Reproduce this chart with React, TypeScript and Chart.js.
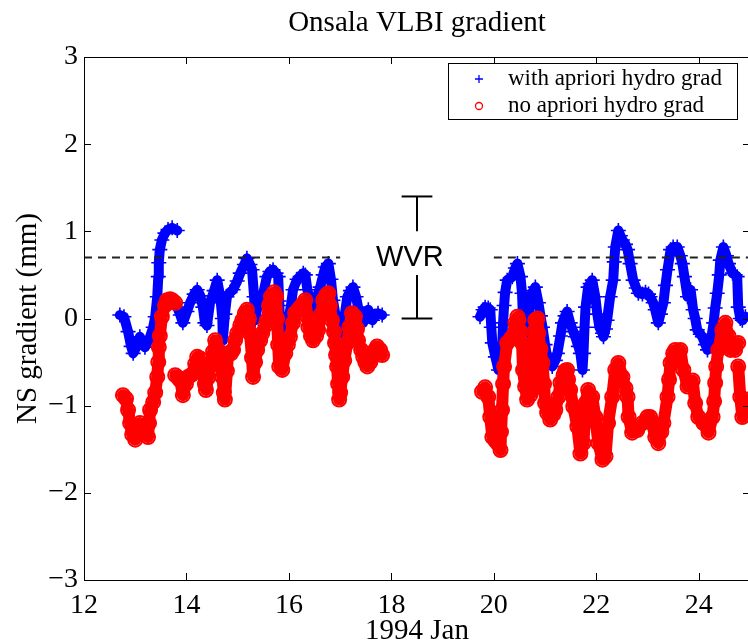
import React, { useEffect, useRef } from 'react';
import { Chart, registerables } from 'chart.js';

Chart.register(...registerables);

const chartTitle = 'Onsala VLBI gradient';
const xAxisTitle = '1994 Jan';
const yAxisTitle = 'NS gradient (mm)';
const legendLabels = ['with apriori hydro grad', 'no apriori hydro grad'];
const xRange = [12, 25];
const yRange = [-3, 3];
const xTickStep = 2;
const yTickStep = 1;

const wvrLevel = 0.7;
const wvrDashSegments = [[12, 17], [20, 25]];
const wvrBarDay = 18.5;
const wvrBarCapHalf = 0.3;
const wvrBarRanges = [[0, 0.5], [1.0, 1.4]];
const wvrLabel = 'WVR';
const wvrLabelDay = 17.7;

// [day of Jan 1994, NS gradient mm]
const withApriori: [number, number][] = [
  [12.70, 0.04], [12.78, 0.02], [12.86, -0.15], [12.92, -0.32], [12.96, -0.40], [13.02, -0.33], [13.09, -0.21], [13.15, -0.28],
  [13.19, -0.33], [13.25, -0.26], [13.29, -0.21], [13.35, -0.10], [13.39, 0.02], [13.43, 0.25], [13.45, 0.48], [13.46, 0.64],
  [13.48, 0.79], [13.52, 0.90], [13.58, 0.98], [13.64, 1.02], [13.72, 1.04], [13.82, 1.01],
  [13.82, 0.13], [13.88, 0.04], [13.93, -0.05], [14.01, 0.08], [14.07, 0.18], [14.15, 0.28], [14.21, 0.33], [14.27, 0.26],
  [14.32, 0.13], [14.36, -0.05], [14.40, -0.08], [14.46, 0.18], [14.54, 0.32], [14.60, 0.44], [14.66, 0.25], [14.70, 0.00],
  [14.71, -0.25], [14.75, 0.05], [14.79, 0.25], [14.85, 0.30], [14.91, 0.33], [14.99, 0.43], [15.05, 0.52], [15.13, 0.62],
  [15.18, 0.69], [15.24, 0.62], [15.28, 0.56], [15.32, 0.25], [15.34, -0.02], [15.40, 0.18], [15.46, 0.25], [15.50, 0.29],
  [15.57, 0.48], [15.63, 0.54], [15.69, 0.56], [15.75, 0.52], [15.79, 0.48], [15.81, 0.20], [15.83, -0.10], [15.89, -0.21],
  [15.95, -0.12], [15.98, -0.05], [16.04, 0.15], [16.08, 0.33], [16.16, 0.45], [16.22, 0.48], [16.28, 0.52], [16.32, 0.50],
  [16.36, 0.33], [16.41, 0.20], [16.47, 0.10], [16.53, 0.22], [16.61, 0.36], [16.67, 0.50], [16.71, 0.59], [16.77, 0.63],
  [16.82, 0.45], [16.86, 0.21], [16.92, 0.00], [16.96, -0.21], [16.98, -0.40], [17.04, -0.28], [17.08, 0.00], [17.14, 0.25],
  [17.20, 0.32], [17.25, 0.36], [17.31, 0.25], [17.35, 0.13], [17.41, 0.03], [17.45, -0.05], [17.51, 0.05], [17.55, 0.10],
  [17.63, -0.02], [17.68, 0.03], [17.74, 0.06], [17.82, 0.04],
  [19.73, 0.02], [19.79, 0.10], [19.83, 0.13], [19.89, 0.12], [19.93, 0.10], [19.95, -0.10], [19.97, -0.28], [20.03, -0.44],
  [20.09, -0.59], [20.13, -0.50], [20.16, -0.36], [20.18, -0.05], [20.20, 0.15], [20.22, 0.30], [20.26, 0.44], [20.32, 0.46],
  [20.36, 0.48], [20.42, 0.58], [20.46, 0.63], [20.52, 0.48], [20.55, 0.29], [20.57, -0.02], [20.61, -0.25], [20.65, -0.40],
  [20.67, -0.05], [20.71, 0.25], [20.77, 0.32], [20.81, 0.36], [20.87, 0.18], [20.91, 0.03], [20.95, -0.10], [21.00, -0.30],
  [21.04, -0.44], [21.10, -0.50], [21.14, -0.55], [21.20, -0.48], [21.24, -0.40], [21.30, -0.20], [21.34, -0.05], [21.39, 0.03],
  [21.43, 0.08], [21.49, -0.05], [21.55, -0.15], [21.59, -0.21], [21.65, -0.32], [21.69, -0.40], [21.73, -0.59], [21.75, -0.40],
  [21.77, -0.10], [21.79, 0.13], [21.84, 0.36], [21.88, 0.40], [21.92, 0.44], [21.98, 0.25], [22.02, 0.05], [22.06, -0.10],
  [22.12, -0.17], [22.14, -0.21], [22.18, -0.12], [22.21, -0.02], [22.27, 0.25], [22.33, 0.44], [22.35, 0.65], [22.37, 0.82],
  [22.43, 1.01], [22.47, 0.95], [22.51, 0.90], [22.57, 0.85], [22.61, 0.79], [22.66, 0.63], [22.72, 0.44], [22.78, 0.35],
  [22.82, 0.29], [22.90, 0.28], [22.96, 0.30], [23.02, 0.28], [23.05, 0.25], [23.11, 0.18], [23.15, 0.10], [23.21, -0.05],
  [23.25, 0.05], [23.31, 0.18], [23.35, 0.38], [23.39, 0.56], [23.45, 0.79], [23.50, 0.82], [23.58, 0.82], [23.64, 0.72],
  [23.68, 0.63], [23.72, 0.48], [23.78, 0.25], [23.84, 0.33], [23.89, 0.10], [23.93, 0.00], [23.97, -0.13], [24.03, -0.18],
  [24.07, -0.21], [24.13, -0.30], [24.17, -0.36], [24.23, -0.28], [24.29, -0.05], [24.32, 0.12], [24.36, 0.29], [24.40, 0.50],
  [24.42, 0.67], [24.48, 0.82], [24.54, 0.72], [24.58, 0.63], [24.66, 0.52], [24.71, 0.50], [24.75, 0.48], [24.77, 0.13],
  [24.81, 0.00], [24.85, -0.02], [24.91, 0.02],
];

const noApriori: [number, number][] = [
  [12.76, -0.88], [12.82, -0.92], [12.86, -1.05], [12.90, -1.20], [12.94, -1.33], [13.00, -1.39], [13.05, -1.30], [13.09, -1.20],
  [13.15, -1.28], [13.19, -1.31], [13.25, -1.36], [13.27, -1.20], [13.29, -1.05], [13.35, -0.96], [13.39, -0.85], [13.43, -0.67],
  [13.45, -0.50], [13.46, -0.33], [13.48, -0.20], [13.52, 0.02], [13.58, 0.15], [13.62, 0.21], [13.68, 0.22], [13.72, 0.21],
  [13.78, 0.18],
  [13.78, -0.65], [13.84, -0.68], [13.88, -0.71], [13.93, -0.88], [13.99, -0.75], [14.03, -0.67], [14.09, -0.65], [14.13, -0.63],
  [14.17, -0.52], [14.21, -0.44], [14.27, -0.46], [14.30, -0.55], [14.36, -0.75], [14.38, -0.82], [14.42, -0.68], [14.46, -0.55],
  [14.52, -0.38], [14.56, -0.25], [14.62, -0.36], [14.66, -0.52], [14.70, -0.67], [14.73, -0.85], [14.75, -0.93], [14.79, -0.60],
  [14.81, -0.40], [14.87, -0.40], [14.91, -0.36], [14.95, -0.25], [14.99, -0.17], [15.05, -0.08], [15.09, -0.02], [15.14, 0.06],
  [15.18, 0.10], [15.22, 0.00], [15.24, -0.17], [15.28, -0.45], [15.30, -0.67], [15.34, -0.50], [15.38, -0.36], [15.44, -0.25],
  [15.48, -0.17], [15.54, -0.08], [15.57, -0.02], [15.61, 0.15], [15.65, 0.25], [15.71, 0.30], [15.75, 0.25], [15.77, 0.00],
  [15.79, -0.30], [15.81, -0.55], [15.87, -0.59], [15.93, -0.40], [15.98, -0.30], [16.02, -0.21], [16.08, -0.05], [16.12, 0.06],
  [16.18, 0.10], [16.22, 0.13], [16.28, 0.17], [16.32, 0.21], [16.36, 0.02], [16.38, -0.10], [16.43, -0.20], [16.47, -0.25],
  [16.53, -0.20], [16.57, -0.13], [16.63, 0.05], [16.67, 0.21], [16.73, 0.27], [16.77, 0.29], [16.80, 0.15], [16.84, -0.02],
  [16.88, -0.15], [16.90, -0.28], [16.92, -0.42], [16.94, -0.55], [16.96, -0.75], [16.98, -0.93], [17.00, -0.85], [17.04, -0.67],
  [17.08, -0.48], [17.14, -0.28], [17.18, -0.10], [17.23, 0.06], [17.29, 0.02], [17.33, -0.12], [17.35, -0.25], [17.41, -0.36],
  [17.45, -0.44], [17.49, -0.50], [17.53, -0.55], [17.59, -0.50], [17.63, -0.44], [17.68, -0.36], [17.72, -0.32], [17.78, -0.36],
  [17.82, -0.42],
  [19.77, -0.84], [19.83, -0.79], [19.89, -0.90], [19.93, -1.13], [19.97, -1.36], [20.03, -1.40], [20.07, -1.43], [20.13, -1.51],
  [20.14, -1.30], [20.16, -1.05], [20.18, -0.75], [20.20, -0.55], [20.26, -0.28], [20.32, -0.24], [20.36, -0.21], [20.42, -0.05],
  [20.46, 0.02], [20.48, -0.02], [20.52, -0.15], [20.55, -0.28], [20.57, -0.59], [20.61, -0.78], [20.65, -0.93], [20.71, -0.88],
  [20.75, -0.82], [20.77, -0.45], [20.79, -0.15], [20.81, -0.02], [20.85, 0.00], [20.87, -0.17], [20.91, -0.35], [20.95, -0.51],
  [20.98, -0.75], [21.00, -0.97], [21.04, -1.08], [21.10, -1.16], [21.16, -1.10], [21.20, -1.05], [21.26, -0.90], [21.30, -0.74],
  [21.36, -0.65], [21.39, -0.60], [21.43, -0.59], [21.45, -0.70], [21.49, -0.82], [21.55, -1.01], [21.63, -1.24], [21.69, -1.55],
  [21.75, -1.43], [21.77, -1.20], [21.79, -0.97], [21.84, -0.82], [21.92, -0.90], [21.98, -1.13], [22.04, -1.43], [22.12, -1.62],
  [22.18, -1.58], [22.23, -1.20], [22.31, -0.90], [22.37, -0.59], [22.43, -0.51], [22.51, -0.67], [22.57, -0.80], [22.61, -0.90],
  [22.63, -1.13], [22.70, -1.31], [22.80, -1.28], [22.90, -1.20], [23.00, -1.13], [23.05, -1.13], [23.09, -1.20], [23.15, -1.36],
  [23.21, -1.43], [23.27, -1.30], [23.31, -1.20], [23.39, -0.90], [23.42, -0.70], [23.45, -0.51], [23.50, -0.40], [23.54, -0.36],
  [23.64, -0.36], [23.70, -0.59], [23.78, -0.78], [23.84, -0.74], [23.88, -0.71], [23.93, -0.97], [23.99, -1.13], [24.09, -1.20],
  [24.19, -1.31], [24.27, -1.13], [24.30, -0.95], [24.32, -0.74], [24.34, -0.55], [24.38, -0.36], [24.46, -0.13], [24.52, -0.05],
  [24.58, -0.20], [24.62, -0.36], [24.71, -0.36], [24.77, -0.28], [24.77, -0.55], [24.81, -0.90], [24.85, -1.13], [24.91, -1.05],
  [24.95, -0.93],
];

const SERIF = '"Liberation Serif", "Times New Roman", serif';
const SANS = '"Liberation Sans", Arial, sans-serif';
const BLUE = '#0000ff';
const RED = '#ff0000';

const fmt = (v: number) => (v < 0 ? '\u2212' + Math.abs(v) : String(v));

// split a trace into continuous runs (break at repeated day or long data gaps)
function runs(points: [number, number][]) {
  const out: { x: number; y: number }[][] = [];
  let cur: { x: number; y: number }[] = [];
  points.forEach(([x, y], i) => {
    if (i > 0) {
      const px = points[i - 1][0];
      if (x === px || x - px > 0.5) {
        out.push(cur);
        cur = [];
      }
    }
    cur.push({ x, y });
  });
  if (cur.length) out.push(cur);
  return out;
}

const framePlugin = {
  id: 'matlabFrame',
  afterDraw(chart: any) {
    const ctx = chart.ctx as CanvasRenderingContext2D;
    const { left, right, top, bottom } = chart.chartArea;
    const xs = chart.scales.x;
    const ys = chart.scales.y;
    ctx.save();
    ctx.strokeStyle = '#000';
    ctx.lineWidth = 1;
    ctx.strokeRect(left + 0.5, top + 0.5, right - left, bottom - top);
    const tl = 7;
    ctx.beginPath();
    xs.ticks.forEach((t: any) => {
      const px = Math.round(xs.getPixelForValue(t.value)) + 0.5;
      ctx.moveTo(px, bottom);
      ctx.lineTo(px, bottom - tl);
      ctx.moveTo(px, top);
      ctx.lineTo(px, top + tl);
    });
    ys.ticks.forEach((t: any) => {
      const py = Math.round(ys.getPixelForValue(t.value)) + 0.5;
      ctx.moveTo(left, py);
      ctx.lineTo(left + tl, py);
      ctx.moveTo(right, py);
      ctx.lineTo(right - tl, py);
    });
    ctx.stroke();

    ctx.fillStyle = '#000';
    ctx.font = `28px ${SERIF}`;
    ctx.textAlign = 'center';
    ctx.textBaseline = 'alphabetic';
    xs.ticks.forEach((t: any) => ctx.fillText(fmt(t.value), xs.getPixelForValue(t.value), bottom + 33));
    ctx.textAlign = 'right';
    ctx.textBaseline = 'middle';
    ys.ticks.forEach((t: any) => ctx.fillText(fmt(t.value), left - 6, ys.getPixelForValue(t.value)));

    // titles
    ctx.font = `29px ${SERIF}`;
    ctx.textAlign = 'center';
    ctx.textBaseline = 'alphabetic';
    ctx.fillText(chartTitle, (left + right) / 2, 31);
    ctx.fillText(xAxisTitle, (left + right) / 2, 639);
    ctx.save();
    ctx.translate(28, (top + bottom) / 2);
    ctx.rotate(-Math.PI / 2);
    ctx.textBaseline = 'middle';
    ctx.fillText(yAxisTitle, 0, 0);
    ctx.restore();

    // WVR label
    ctx.font = `29px ${SANS}`;
    ctx.textAlign = 'left';
    ctx.textBaseline = 'middle';
    ctx.fillText(wvrLabel, xs.getPixelForValue(wvrLabelDay), ys.getPixelForValue(wvrLevel) + 1);

    // legend
    const bx = right - 302;
    const by = top + 6;
    const bw = 289;
    const bh = 56;
    ctx.fillStyle = '#fff';
    ctx.fillRect(bx, by, bw, bh);
    ctx.strokeStyle = '#000';
    ctx.lineWidth = 1;
    ctx.strokeRect(bx + 0.5, by + 0.5, bw, bh);
    const mx = bx + 31;
    const r1 = by + 16;
    const r2 = by + 43;
    ctx.lineWidth = 1.3;
    ctx.strokeStyle = BLUE;
    ctx.beginPath();
    ctx.moveTo(mx - 4, r1);
    ctx.lineTo(mx + 4, r1);
    ctx.moveTo(mx, r1 - 4);
    ctx.lineTo(mx, r1 + 4);
    ctx.stroke();
    ctx.strokeStyle = RED;
    ctx.beginPath();
    ctx.arc(mx, r2, 3.5, 0, Math.PI * 2);
    ctx.stroke();
    ctx.fillStyle = '#000';
    ctx.font = `23px ${SERIF}`;
    ctx.textAlign = 'left';
    ctx.textBaseline = 'middle';
    ctx.fillText(legendLabels[0], bx + 60, r1);
    ctx.fillText(legendLabels[1], bx + 60, r2);
    ctx.restore();
  },
};

export default function App() {
  const ref = useRef<HTMLCanvasElement | null>(null);
  useEffect(() => {
    if (!ref.current) return;
    const lineStyle = {
      showLine: true,
      pointRadius: 0,
      borderColor: '#000',
      borderWidth: 2,
      order: 0,
    };
    const traceLines = (pts: [number, number][], color: string, width: number, order: number) =>
      runs(pts).map((run) => ({
        data: run,
        showLine: true,
        pointRadius: 0,
        borderColor: color,
        borderWidth: width,
        borderJoinStyle: 'round',
        borderCapStyle: 'round',
        tension: 0,
        order,
      }));
    const datasets: any[] = [
      ...traceLines(withApriori, BLUE, 10, 4),
      {
        label: legendLabels[0],
        data: withApriori.map(([x, y]) => ({ x, y })),
        pointStyle: 'cross',
        pointRadius: 7.5,
        borderColor: BLUE,
        backgroundColor: BLUE,
        borderWidth: 1.6,
        order: 3,
      },
      ...traceLines(noApriori, RED, 12, 2),
      {
        label: legendLabels[1],
        data: noApriori.map(([x, y]) => ({ x, y })),
        pointStyle: 'circle',
        pointRadius: 7,
        borderColor: RED,
        backgroundColor: 'rgba(0,0,0,0)',
        borderWidth: 2,
        order: 1,
      },
      ...wvrDashSegments.map(([a, b]) => ({
        ...lineStyle,
        borderColor: '#222',
        borderWidth: 2,
        borderDash: [8, 6],
        data: [{ x: a, y: wvrLevel }, { x: b, y: wvrLevel }],
      })),
      ...wvrBarRanges.map(([a, b]) => ({
        ...lineStyle,
        data: [{ x: wvrBarDay, y: a }, { x: wvrBarDay, y: b }],
      })),
      {
        ...lineStyle,
        data: [{ x: wvrBarDay - wvrBarCapHalf, y: wvrBarRanges[0][0] }, { x: wvrBarDay + wvrBarCapHalf, y: wvrBarRanges[0][0] }],
      },
      {
        ...lineStyle,
        data: [{ x: wvrBarDay - wvrBarCapHalf, y: wvrBarRanges[1][1] }, { x: wvrBarDay + wvrBarCapHalf, y: wvrBarRanges[1][1] }],
      },
    ];
    const chart = new Chart(ref.current, {
      type: 'scatter',
      data: { datasets },
      options: {
        animation: false,
        responsive: false,
        events: [],
        layout: { padding: { left: 0, right: 10, top: 57, bottom: 0 } },
        plugins: { legend: { display: false }, tooltip: { enabled: false }, title: { display: false } },
        scales: {
          x: {
            type: 'linear',
            min: xRange[0],
            max: xRange[1],
            ticks: { display: false, stepSize: xTickStep, includeBounds: false },
            grid: { display: false, drawTicks: false },
            border: { display: false },
            afterFit: (s: any) => { s.height = 64; },
          },
          y: {
            type: 'linear',
            min: yRange[0],
            max: yRange[1],
            ticks: { display: false, stepSize: yTickStep, includeBounds: false },
            grid: { display: false, drawTicks: false },
            border: { display: false },
            afterFit: (s: any) => { s.width = 84; },
          },
        },
      },
      plugins: [framePlugin],
    });
    return () => chart.destroy();
  }, []);
  return (
    <div style={{ position: 'fixed', left: 0, top: 0, width: 748, height: 644, overflow: 'hidden', background: '#fff' }}>
      <canvas ref={ref} width={760} height={644} style={{ display: 'block' }} />
    </div>
  );
}
